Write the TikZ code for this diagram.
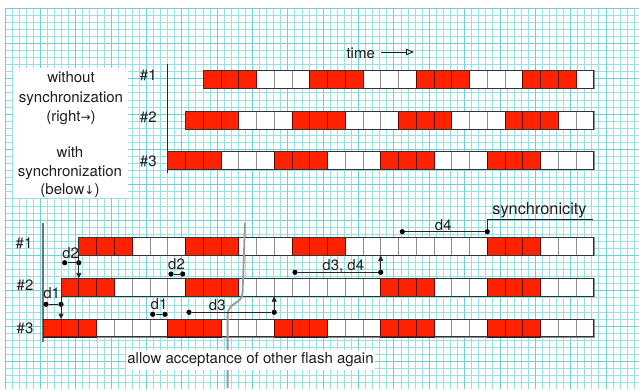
\documentclass[tikz,border=0pt]{standalone}
\usepackage{fontspec}
\setmainfont{TeX Gyre Heros}
\newfontfamily\symfont{DejaVu Sans}
\usetikzlibrary{arrows.meta}
\definecolor{gridc}{RGB}{150,224,230}
\definecolor{gridm}{RGB}{110,208,216}
\definecolor{flash}{RGB}{255,34,0}
\definecolor{txt}{RGB}{30,30,30}
\tikzset{
  lbl/.style={font=\fontsize{15}{19.2}\selectfont, text=txt, inner sep=0pt},
  dot/.style={circle, fill=black, inner sep=0pt, minimum size=5.2pt},
  dimln/.style={draw=black!85, line width=0.8pt},
  tipd/.style={-{Triangle[length=5.5pt,width=5pt]}},
  wcell/.style={draw=black!45, fill=white, line width=0.7pt},
  rcell/.style={draw=black!60!red, fill=flash, line width=0.7pt},
  rowbox/.style={draw=black!80, line width=0.9pt, inner sep=0pt, outer sep=0pt, minimum height=17.76pt},
}
\newcommand\flashrow[5]{%
  \foreach \i in {#3,...,#4}{\draw[wcell] ({43.3+\i*17.76},#2) rectangle ++(17.76,17.76);}
  \foreach \i in {#5}{\draw[rcell] ({43.3+\i*17.76},#2) rectangle ++(17.76,17.76);}
  \node[rowbox, minimum width={(#4-#3+1)*17.76pt}, anchor=north west] (#1) at ({43.3+#3*17.76},#2) {};
}
\begin{document}
\begin{tikzpicture}[x=1pt,y=-1pt]
\useasboundingbox (0,0) rectangle (639,389);
\fill[white] (0,0) rectangle (639,389);
% grid
\foreach \k in {0,...,89}{\draw[gridc, line width=0.8pt] ({5+\k*7.07},8) -- ({5+\k*7.07},389);}
\foreach \k in {0,...,53}{\draw[gridc, line width=0.8pt] (5,{8+\k*7.07}) -- (639,{8+\k*7.07});}
\foreach \k in {0,5,...,85}{\draw[gridm, line width=0.8pt] ({5+\k*7.07},8) -- ({5+\k*7.07},389);}
\foreach \k in {0,5,...,50}{\draw[gridm, line width=0.8pt] (5,{8+\k*7.07}) -- (639,{8+\k*7.07});}

% label box
\node[fill=white, inner sep=0pt, minimum width=115pt, minimum height=130pt] (lbox) at (70.6,133) {};
\node[lbl, align=center] (without) at (71,98.3) {without\\synchronization\\(right{\symfont\fontsize{12}{12}\selectfont →})};
\node[lbl, align=center, font=\fontsize{15}{18.6}\selectfont] (with) at (70,172.5) {with\\synchronization\\(below{\symfont\fontsize{12}{12}\selectfont ↓})};

% top part
\node[lbl] (t1) at (148.3,75.7) {\#1};
\node[lbl] (t2) at (148.3,117.7) {\#2};
\node[lbl] (t3) at (148.3,161) {\#3};
\coordinate (axt1) at (167.3,64);
\coordinate (axt2) at (167.3,173);
\draw[black!85, line width=1.3pt] (axt1) -- (axt2);
\node[lbl] (time) at (360.7,53.3) {time};
\coordinate (timeend) at (414,52);
\draw[black!90, line width=0.9pt, -{Triangle[open, length=8pt, width=6.5pt]}] (time.east) ++(6,-1.3) -- (timeend);

\flashrow{a1}{70.7}{9}{30}{9,10,11,15,16,17,21,22,23,27,28,29}
\flashrow{a2}{111.2}{8}{30}{8,9,10,14,15,16,20,21,22,26,27,28}
\flashrow{a3}{151.7}{7}{30}{7,8,9,13,14,15,19,20,21,25,26,27}

% bottom part
\node[lbl] (b1l) at (24,243.5) {\#1};
\node[lbl] (b2l) at (25,285.7) {\#2};
\node[lbl] (b3l) at (25,328.3) {\#3};
\coordinate (axb1) at (42.9,223);
\coordinate (axb2) at (42.9,342);
\draw[black!55, line width=1.4pt] (axb1) -- (axb2);

\flashrow{b1}{237.7}{2}{30}{2,3,4,8,9,10,14,15,16,25,26,27}
\flashrow{b2}{278.4}{1}{30}{1,2,3,8,9,10,19,20,21,25,26,27}
\flashrow{b3}{319.1}{0}{30}{0,1,2,7,8,9,13,14,15,19,20,21,25,26,27}

% gray curve
\coordinate (ctop) at (245,223);
\coordinate (cbot) at (227.6,388);
\draw[black!40, line width=1.8pt] (ctop) -- (242.6,292) .. controls (242.2,306) and (228,300) .. (227.6,316) -- (cbot);

% d2 left
\node[dot] (d2a) at (64.7,262.7) {};
\node[dot] (d2b) at (78.8,262.7) {};
\draw[dimln] (d2a) -- (d2b);
\draw[dimln, tipd] (b1.south west) -- (b1.south west |- b2.north);
\node[lbl] (d2l) at (70.7,252.7) {d2};
% d1 left
\node[dot] (d1a) at (46,304.3) {};
\node[dot] (d1b) at (61.06,304.3) {};
\draw[dimln] (d1a) -- (d1b);
\draw[dimln, tipd] (b2.south west) -- (b2.south west |- b3.north);
\node[lbl] (d1l) at (51.7,293.3) {d1};
% d2 middle
\node[dot] (m2a) at (171,274) {};
\node[dot] (m2b) at (182.7,274) {};
\draw[dimln] (m2a) -- (m2b);
\node[lbl] (m2l) at (176.5,264) {d2};
% d1 middle
\node[dot] (m1a) at (152.7,314.3) {};
\node[dot] (m1b) at (165,314.3) {};
\draw[dimln] (m1a) -- (m1b);
\node[lbl] (m1l) at (159,304) {d1};
% d3
\node[dot] (d3a) at (189,312.3) {};
\node[dot] (d3b) at (274.2,312.3) {};
\draw[dimln] (d3a) -- (d3b);
\draw[dimln, tipd] (d3b.center) -- (d3b.center |- b2.south);
\node[lbl] (d3l) at (217.3,305.5) {d3};
% d3, d4
\node[dot] (e3a) at (295,272.3) {};
\node[dot] (e3b) at (380.7,272.3) {};
\draw[dimln] (e3a) -- (e3b);
\draw[dimln, tipd] (e3b.center) -- (e3b.center |- b1.south);
\node[lbl] (e3l) at (343.3,266) {d3, d4};
% d4
\node[dot] (d4a) at (402.3,231.7) {};
\node[dot] (d4b) at (487.3,231.7) {};
\draw[dimln] (d4a) -- (d4b);
\node[lbl] (d4l) at (443.3,225.5) {d4};
% synchronicity
\coordinate (sy2) at (593.3,219);
\draw[dimln] (d4b.north) -- (d4b.center |- sy2) -- (sy2);
\node[lbl, font=\fontsize{16.3}{19}\selectfont] (syn) at (539.5,210) {synchronicity};

% caption
\node[lbl, fill=white, inner xsep=1.5pt, minimum height=20pt] (cap) at (250.5,360) {allow acceptance of other flash again};
\end{tikzpicture}
\end{document}
